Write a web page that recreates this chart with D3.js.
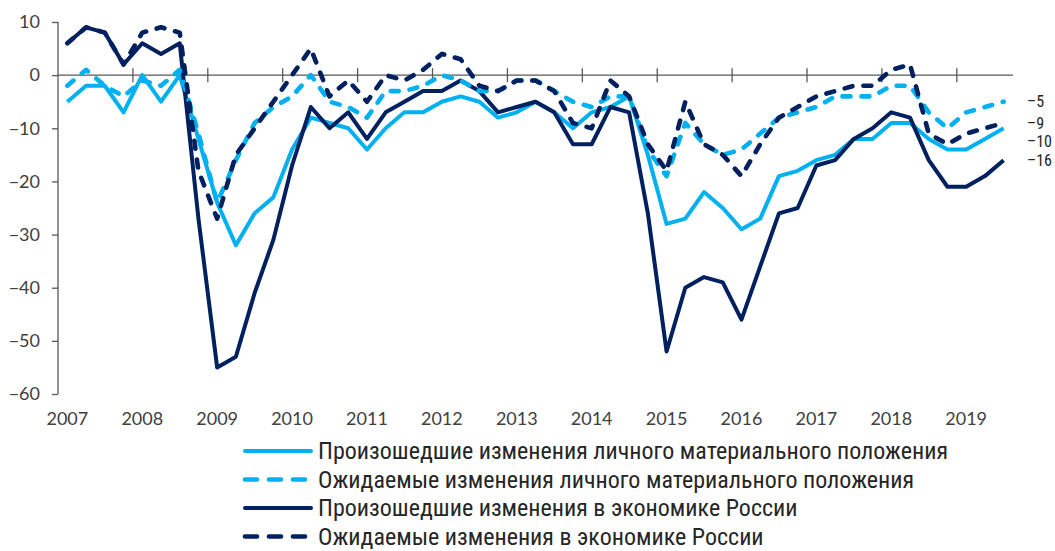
<!DOCTYPE html>
<html>
<head>
<meta charset="utf-8">
<script src="https://cdn.jsdelivr.net/npm/d3@7"></script>
<style>
body { margin: 0; background: #fff; }
.axis-label { font-family: Lato, "Open Sans", sans-serif; font-size: 18px; fill: #404040; }
.narrow { font-family: "Liberation Sans Narrow", "Arial Narrow", "Roboto Condensed", sans-serif; fill: #262626; }
</style>
</head>
<body>
<svg id="chart"></svg>
<script>
// quarterly survey balances, 2007 Q1 .. 2019 Q3
var years = ['2007','2008','2009','2010','2011','2012','2013','2014','2015','2016','2017','2018','2019'];

var personalPast = [
	-5, -2, -2, -7,
	0, -5, 0, -12,
	-24, -32, -26, -23,
	-14, -8, -9, -10,
	-14, -10, -7, -7,
	-5, -4, -5, -8,
	-7, -5, -7, -10,
	-7, -6, -4, -15,
	-28, -27, -22, -25,
	-29, -27, -19, -18,
	-16, -15, -12, -12,
	-9, -9, -12, -14,
	-14, -12, -10];

var personalExpected = [
	-2, 1, -2, -4,
	-1, -2, 1, -11,
	-24, -16, -9, -6,
	-4, 0, -5, -6,
	-8, -3, -3, -2,
	0, -1, -3, -3,
	-1, -1, -3, -5,
	-6, -4, -4, -14,
	-19, -9, -13, -15,
	-14, -11, -8, -7,
	-6, -4, -4, -4,
	-2, -2, -7, -10,
	-7, -6, -5];

var economyPast = [
	6, 9, 8, 2,
	6, 4, 6, -27,
	-55, -53, -41, -31,
	-17, -6, -10, -7,
	-12, -7, -5, -3,
	-3, -1, -3, -7,
	-6, -5, -7, -13,
	-13, -6, -7, -26,
	-52, -40, -38, -39,
	-46, -36, -26, -25,
	-17, -16, -12, -10,
	-7, -8, -16, -21,
	-21, -19, -16];

var economyExpected = [
	6, 9, 8, 2,
	8, 9, 8, -18,
	-27, -15, -10, -5,
	0, 5, -4, -1,
	-5, 0, -1, 1,
	4, 3, -2, -3,
	-1, -1, -3, -9,
	-10, -1, -4, -13,
	-18, -5, -13, -15,
	-19, -13, -8, -6,
	-4, -3, -2, -2,
	1, 2, -11, -13,
	-11, -10, -9];

var seriesNames = [
	'Произошедшие изменения личного материального положения',
	'Ожидаемые изменения личного материального положения',
	'Произошедшие изменения в экономике России',
	'Ожидаемые изменения в экономике России'];

var yTicks = [10, 0, -10, -20, -30, -40, -50, -60];

var quarters = [];
years.forEach(function(y) {
	['Q1','Q2','Q3','Q4'].forEach(function(q) { quarters.push(y + ' ' + q); });
});
quarters = quarters.slice(0, personalPast.length);

var series = [
	{name: seriesNames[0], values: personalPast, color: '#00b0f0', dashed: false},
	{name: seriesNames[1], values: personalExpected, color: '#00b0f0', dashed: true},
	{name: seriesNames[2], values: economyPast, color: '#002060', dashed: false},
	{name: seriesNames[3], values: economyExpected, color: '#002060', dashed: true}
];

var width = 1055, height = 551;
var svg = d3.select('#chart')
	.attr('width', width)
	.attr('height', height);

var x = d3.scaleBand()
	.domain(quarters)
	.range([58, 1013])
	.paddingInner(0)
	.paddingOuter(0);

var y = d3.scaleLinear()
	.domain([-60, 10])
	.range([394, 22]);

function cx(q) { return x(q) + x.bandwidth() / 2; }

// y axis
var yAxis = d3.axisLeft(y)
	.tickValues(yTicks)
	.tickSize(6)
	.tickPadding(12)
	.tickFormat(d3.format('d'));

var gy = svg.append('g')
	.attr('transform', 'translate(58,0)')
	.call(yAxis);
gy.selectAll('path, line').attr('stroke', '#595959').attr('stroke-width', 1.3);
gy.selectAll('text').attr('class', 'axis-label').attr('fill', null);
gy.select('.domain').attr('d', 'M0,' + y(10) + 'V' + y(-60));

// category axis along zero
svg.append('line')
	.attr('x1', 58).attr('x2', 1013)
	.attr('y1', y(0)).attr('y2', y(0))
	.attr('stroke', '#595959').attr('stroke-width', 1.3);

var yearStarts = quarters.filter(function(q, i) { return i % 4 === 0 && i > 0; });
svg.selectAll('.ytick-x')
	.data(yearStarts)
	.enter().append('line')
	.attr('x1', function(d) { return x(d); })
	.attr('x2', function(d) { return x(d); })
	.attr('y1', y(0) - 7).attr('y2', y(0) + 7)
	.attr('stroke', '#595959').attr('stroke-width', 1.3);

svg.selectAll('.year-label')
	.data(quarters.filter(function(q, i) { return i % 4 === 0; }))
	.enter().append('text')
	.attr('class', 'axis-label')
	.attr('x', cx)
	.attr('y', 425)
	.attr('text-anchor', 'middle')
	.text(function(d) { return d.slice(0, 4); });

// lines
var line = d3.line()
	.x(function(d, i) { return cx(quarters[i]); })
	.y(function(d) { return y(d); });

// draw order: light solid, dark solid, light dashed, dark dashed
[0, 2, 1, 3].forEach(function(k) {
	var s = series[k];
	svg.append('path')
		.datum(s.values)
		.attr('fill', 'none')
		.attr('stroke', s.color)
		.attr('stroke-width', s.dashed ? 4.6 : 4)
		.attr('stroke-linejoin', 'round')
		.attr('stroke-linecap', s.dashed ? 'round' : 'butt')
		.attr('stroke-dasharray', s.dashed ? '8,11' : null)
		.attr('d', line);
});

// end labels, nudged apart so they do not collide
var ends = series.map(function(s) {
	var v = s.values[s.values.length - 1];
	return {v: v, ty: y(v)};
}).sort(function(a, b) { return a.ty - b.ty; });
for (var i = 1; i < ends.length; i++) {
	if (ends[i].ty - ends[i - 1].ty < 18) ends[i].ty = ends[i - 1].ty + 18;
}
svg.selectAll('.end-label')
	.data(ends)
	.enter().append('text')
	.attr('class', 'narrow')
	.attr('x', 1027)
	.attr('y', function(d) { return d.ty; })
	.attr('dy', '0.36em')
	.style('font-size', '16px')
	.text(function(d) { return (d.v < 0 ? '\u2013' : '') + Math.abs(d.v); });

// legend
var legend = svg.selectAll('.legend')
	.data(series)
	.enter().append('g')
	.attr('transform', function(d, i) { return 'translate(243,' + (451 + i * 28.5) + ')'; });

legend.append('line')
	.attr('x1', 2).attr('x2', 68)
	.attr('stroke', function(d) { return d.color; })
	.attr('stroke-width', function(d) { return d.dashed ? 4.6 : 4; })
	.attr('stroke-linecap', 'round')
	.attr('stroke-dasharray', function(d) { return d.dashed ? '12,12' : null; });

legend.append('text')
	.attr('class', 'narrow')
	.attr('x', 75)
	.attr('dy', '0.35em')
	.style('font-size', '24px')
	.text(function(d) { return d.name; });
</script>
</body>
</html>
